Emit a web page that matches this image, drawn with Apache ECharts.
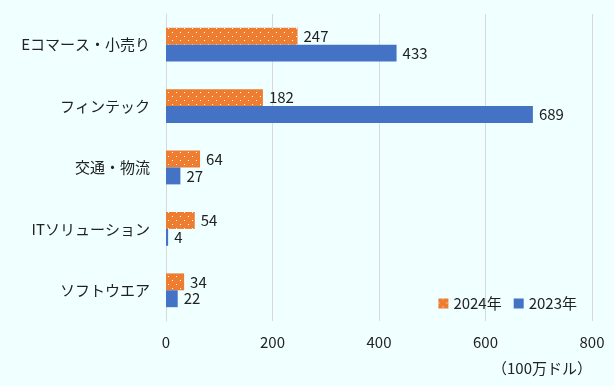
<!DOCTYPE html>
<html><head><meta charset="utf-8">
<script src="https://cdn.jsdelivr.net/npm/echarts@6/dist/echarts.min.js"></script>
<style>html,body{margin:0;padding:0;background:#F0FFFF;}#c{width:614px;height:386px;}</style>
</head><body><div id="c"></div>
<script>
const categories = ['Eコマース・小売り','フィンテック','交通・物流','ITソリューション','ソフトウエア'];
const values2024 = [247,182,64,54,34];
const values2023 = [433,689,27,4,22];
const xTicks = {min:0, max:800, interval:200};
const FONT = '"Noto Sans CJK JP", "Noto Sans", sans-serif';
const chart = echarts.init(document.getElementById('c'), null, {renderer:'canvas'});
chart.setOption({
  backgroundColor:'#F0FFFF',
  animation:false,
  textStyle:{fontFamily:FONT},
  grid:{left:166, right:22, top:14, bottom:65},
  legend:{
    right:32, bottom:70, itemWidth:10, itemHeight:10, itemGap:12, icon:'rect',
    textStyle:{fontSize:15, color:'#222', fontFamily:FONT},
    data:['2024年','2023年']
  },
  xAxis:{type:'value', min:xTicks.min, max:xTicks.max, interval:xTicks.interval,
    axisLabel:{fontSize:15, color:'#222', margin:14, fontFamily:FONT},
    splitLine:{lineStyle:{color:'#D9D9D9'}}, axisLine:{show:false}, axisTick:{show:false}},
  yAxis:{type:'category', data:categories, inverse:true,
    axisLabel:{fontSize:15, color:'#222', margin:16, fontFamily:FONT},
    axisLine:{show:true, lineStyle:{color:'#D9D9D9'}}, axisTick:{show:false}},
  graphic:[{type:'text', right:22, top:361, style:{text:'（100万ドル）', fill:'#222', font:'15px '+FONT}}],
  series:[
    {name:'2024年', type:'bar', data:values2024, barGap:'0%', barCategoryGap:'45%',
      itemStyle:{color:'#ED7D31', decal:{symbol:'rect', symbolSize:1, color:'#ffffff', dashArrayX:[[1,7],[0,4,1,3]], dashArrayY:[1,3]}},
      label:{show:true, position:'right', fontSize:15, color:'#222', distance:6, fontFamily:FONT}},
    {name:'2023年', type:'bar', data:values2023, barGap:'0%', barCategoryGap:'45%',
      itemStyle:{color:'#4472C4'},
      label:{show:true, position:'right', fontSize:15, color:'#222', distance:6, fontFamily:FONT}}
  ]
});
</script></body></html>
